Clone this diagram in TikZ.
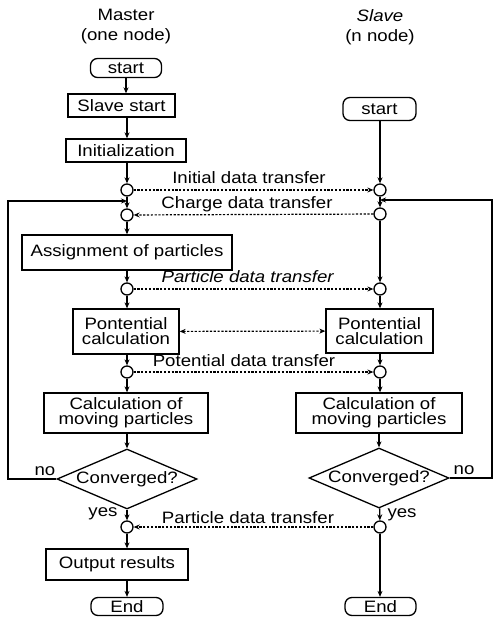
\documentclass[tikz,border=0pt]{standalone}
\usepackage{fontspec}
\setmainfont{Liberation Sans}[FakeStretch=1.13]
\usetikzlibrary{shapes.geometric,arrows.meta}
\begin{document}
\begin{tikzpicture}[x=1pt,y=-1pt,
  every node/.style={font=\fontsize{16.5}{15}\selectfont},
  box/.style={draw, rectangle, line width=1.3pt, inner sep=0pt, align=center},
  term/.style={draw, rectangle, rounded corners=7pt, line width=1.3pt, inner sep=0pt},
  conn/.style={draw, circle, line width=1.3pt, inner sep=0pt, minimum size=12pt},
  dec/.style={draw, diamond, aspect=2.33, line width=1.3pt, inner sep=0pt, minimum width=140pt, minimum height=60pt},
  flow/.style={line width=1.3pt, -{Stealth[length=6pt,width=5pt]}},
  xfer/.style={line width=1.2pt, dash pattern=on 2.2pt off 1.6pt, -{Stealth[length=6pt,width=5pt]}},
  lbl/.style={inner sep=0pt, align=center}
]
\useasboundingbox (0,0) rectangle (496,617);

% headers
\node[lbl, font=\fontsize{16.5}{20}\selectfont] (mhead) at (126,27) {Master\\(one node)};
\node[lbl, font=\fontsize{16.5}{20}\selectfont] (shead) at (380,27) {\textit{Slave}\\(n node)};

% master column
\node[term, minimum width=71pt, minimum height=19pt] (mstart) at (126,68) {start};
\node[box, minimum width=107pt, minimum height=23pt] (mss) at (121.5,105.5) {Slave start};
\node[box, minimum width=120pt, minimum height=23pt] (minit) at (126,150.5) {Initialization};
\node[conn] (mc1) at (127,190) {};
\node[conn] (mc2) at (127,215) {};
\node[box, minimum width=210pt, minimum height=35pt] (massign) at (127,252.5) {Assignment of particles};
\node[conn] (mc3) at (127,289) {};
\node[box, minimum width=106pt, minimum height=45pt] (mpot) at (126,331.5) {Pontential\\calculation};
\node[conn] (mc4) at (127,372) {};
\node[box, minimum width=164pt, minimum height=40pt] (mcalc) at (126,413) {Calculation of\\moving particles};
\node[dec] (mdia) at (127,479) {Converged?};
\node[conn] (mc5) at (127,527) {};
\node[box, minimum width=142pt, minimum height=31pt] (mout) at (117,564.5) {Output results};
\node[term, minimum width=72pt, minimum height=18pt] (mend) at (127,606.5) {End};

% slave column
\node[term, minimum width=73pt, minimum height=23pt] (sstart) at (379.5,109) {start};
\node[conn] (sc1) at (380,190) {};
\node[conn] (sc2) at (380,214) {};
\node[conn] (sc3) at (380,289) {};
\node[box, minimum width=107pt, minimum height=44pt] (spot) at (379.5,331) {Pontential\\calculation};
\node[conn] (sc4) at (380,372) {};
\node[box, minimum width=166pt, minimum height=40pt] (scalc) at (379,413) {Calculation of\\moving particles};
\node[dec] (sdia) at (379,478) {Converged?};
\node[conn] (sc5) at (380,527) {};
\node[term, minimum width=71pt, minimum height=18pt] (send) at (380.5,606.5) {End};

% master flow
\draw[flow] (mstart) -- (mstart.south |- mss.north);
\draw[flow] (mss.south -| mc1) -- (minit.north -| mc1);
\draw[flow] (minit.south -| mc1) -- (mc1);
\draw[flow] (mc1) -- (mc2);
\draw[flow] (mc2) -- (massign.north -| mc2);
\draw[flow] (massign.south -| mc3) -- (mc3);
\draw[flow] (mc3) -- (mpot.north -| mc3);
\draw[flow] (mpot.south -| mc4) -- (mc4);
\draw[flow] (mc4) -- (mcalc.north -| mc4);
\draw[flow] (mcalc.south -| mdia) -- (mdia);
\draw[flow] (mdia) -- (mc5);
\draw[flow] (mc5) -- (mout.north -| mc5);
\draw[flow] (mout.south -| mend) -- (mend);

% slave flow
\draw[flow] (sstart.south -| sc1) -- (sc1);
\draw[flow] (sc1) -- (sc2);
\draw[flow] (sc2) -- (sc3);
\draw[flow] (sc3) -- (spot.north -| sc3);
\draw[flow] (spot.south -| sc4) -- (sc4);
\draw[flow] (sc4) -- (scalc.north -| sc4);
\draw[flow] (scalc.south -| sdia) -- (sdia);
\draw[flow] (sdia) -- (sc5);
\draw[flow] (sc5) -- (send.north -| sc5);

% loops
\coordinate (mjoin) at (127,201);
\coordinate (lloop) at (8,479);
\draw[flow] (mdia.west) -- (lloop) |- (mjoin);
\coordinate (sjoin) at (380,200);
\coordinate (rloop) at (492,478);
\draw[flow] (sdia.east) -- (rloop) |- (sjoin);

\node[lbl] (mno) at (45,471) {no};
\node[lbl] (sno) at (464,470) {no};
\node[lbl] (myes) at (103,514) {yes};
\node[lbl] (syes) at (402,515) {yes};

% transfers
\draw[xfer] (mc1) -- (sc1);
\node[lbl] (t1) at (249,178) {Initial data transfer};
\draw[xfer] (sc2) -- (mc2);
\node[lbl] (t2) at (247,204) {Charge data transfer};
\draw[xfer] (mc3) -- (sc3);
\node[lbl] (t3) at (248,277) {\textit{Particle data transfer}};
\draw[xfer, {Stealth[length=6pt,width=5pt]}-{Stealth[length=6pt,width=5pt]}] (mpot) -- (spot);
\draw[xfer] (mc4) -- (sc4);
\node[lbl] (t4) at (244,361) {Potential data transfer};
\draw[xfer] (sc5) -- (mc5);
\node[lbl] (t5) at (248,518) {Particle data transfer};
\end{tikzpicture}
\end{document}
